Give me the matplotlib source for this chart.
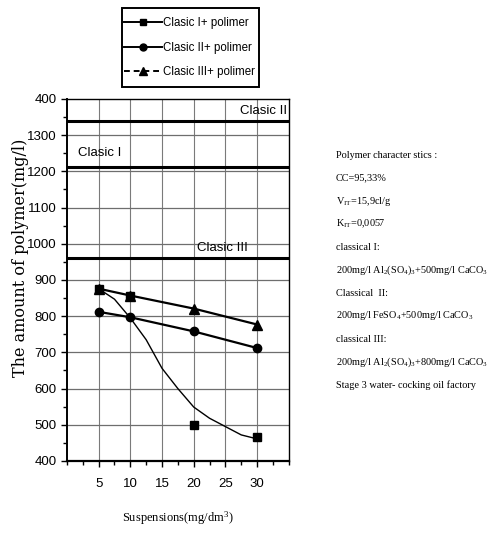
import matplotlib
matplotlib.use("Agg")
import matplotlib.pyplot as plt
from matplotlib.lines import Line2D
from matplotlib.patches import Rectangle
from matplotlib.ticker import MultipleLocator, FixedLocator

plt.rcParams['font.family'] = ['Liberation Sans', 'DejaVu Sans']
plt.rcParams['mathtext.fontset'] = 'custom'
plt.rcParams['mathtext.rm'] = 'Liberation Serif'
plt.rcParams['mathtext.it'] = 'Liberation Serif:italic'

# ---- data ----
x_pts = [5, 10, 20, 30]
clasic1_pts = [875, 856, 500, 465]          # squares
clasic2_pts = [812, 797, 758, 712]          # circles
clasic3_pts = [876, 857, 821, 777]          # triangles
# smoothed trend drawn through Clasic I
curve_x = [5, 7.5, 10, 12.5, 15, 17.5, 20, 22.5, 25, 27.5, 30]
curve_y = [876, 847, 795, 735, 656, 600, 549, 518, 495, 472, 461]
# reference levels
ref_names = ["Clasic II", "Clasic I", "Clasic III"]
ref_values = [1338, 1213, 960]

yticks = [400, 500, 600, 700, 800, 900, 1000, 1100, 1200, 1300, 1400]
ytick_labels = ["400", "500", "600", "700", "800", "900", "1000", "1100", "1200", "1300", "400"]
xticks = [5, 10, 15, 20, 25, 30]

legend_labels = ["Clasic I+ polimer", "Clasic II+ polimer", "Clasic III+ polimer"]

info_lines = [
    "Polymer character stics :",
    "CC=95,33%",
    r"V$_{\mathrm{IT}}$=15,9cl/g",
    r"K$_{\mathrm{IT}}$=0,0057",
    "classical I:",
    r"200mg/l Al$_2$(SO$_4$)$_3$+500mg/l CaCO$_3$",
    "Classical  II:",
    r"200mg/l FeSO$_4$+500mg/l CaCO$_3$",
    "classical III:",
    r"200mg/l Al$_2$(SO$_4$)$_3$+800mg/l CaCO$_3$",
    "Stage 3 water- cocking oil factory",
]

W, H = 492, 548
fig = plt.figure(figsize=(W / 100, H / 100), dpi=100)
ax = fig.add_axes([0.136, 0.1588, 0.451, 0.6606])

ax.set_xlim(0, 35)
ax.set_ylim(400, 1400)

# grid
for gx in [5, 10, 15, 20, 25, 30]:
    ax.axvline(gx, color="#7a7a7a", lw=0.8, zorder=1)
for gy in yticks[1:-1]:
    ax.axhline(gy, color="#6e6e6e", lw=0.9, zorder=1)

# reference lines
for name, val in zip(ref_names, ref_values):
    ax.axhline(val, color="black", lw=2.2, zorder=2)

ax.text(34.8, ref_values[0] + 12, ref_names[0], ha="right", va="bottom", fontsize=9.5)
ax.text(1.8, ref_values[1] + 22, ref_names[1], ha="left", va="bottom", fontsize=9.5)
ax.text(24.5, ref_values[2] + 12, ref_names[2], ha="center", va="bottom", fontsize=9.5)

# series
ax.plot(curve_x, curve_y, color="black", lw=1.0, zorder=3)
ax.plot(x_pts, clasic1_pts, ls="none", marker="s", ms=6, color="black", zorder=4)
ax.plot(x_pts, clasic2_pts, ls="-", lw=1.6, marker="o", ms=6, color="black", zorder=4)
ax.plot(x_pts, clasic3_pts, ls="-", lw=1.6, marker="^", ms=7, color="black", zorder=4)

# ticks
ax.xaxis.set_major_locator(FixedLocator(xticks))
ax.xaxis.set_minor_locator(MultipleLocator(2.5))
ax.yaxis.set_major_locator(FixedLocator(yticks))
ax.set_yticklabels(ytick_labels)
ax.yaxis.set_minor_locator(MultipleLocator(50))
ax.tick_params(axis="both", which="major", labelsize=9.5, direction="out", length=4, width=1)
ax.tick_params(axis="both", which="minor", direction="out", length=3, width=1)
ax.tick_params(axis="x", pad=8)
for s in ax.spines.values():
    s.set_linewidth(1.0)
ax.spines["left"].set_linewidth(1.4)
ax.spines["bottom"].set_linewidth(1.6)

ax.set_ylabel("The amount of polymer(mg/l)", family="DejaVu Serif", fontsize=11.5)
ax.yaxis.set_label_coords(-0.17, 0.56)
ax.set_xlabel("Suspensions(mg/dm$^3$)", family="Liberation Serif", fontsize=9, labelpad=14)

# legend
handles = [
    Line2D([], [], color="black", lw=1.4, marker="s", ms=5),
    Line2D([], [], color="black", lw=1.4, marker="o", ms=5),
    Line2D([], [], color="black", lw=1.4, marker="^", ms=6, ls=(0, (3, 2))),
]
leg = fig.legend(handles, legend_labels, loc="upper left",
                 bbox_to_anchor=(124 / W, 1 - 17 / H), fontsize=8.3,
                 handlelength=3.3, handletextpad=0.1, labelspacing=1.09,
                 borderpad=0.0, borderaxespad=0.0, frameon=False)
fig.add_artist(Rectangle((122 / W, 1 - 87 / H), 137 / W, 79 / H,
                         transform=fig.transFigure, fill=False,
                         edgecolor="black", lw=1.4))

# side text
y0 = 1 - 155 / H
dy = 23 / H
for i, line in enumerate(info_lines):
    fig.text(336 / W, y0 - i * dy, line, family="Liberation Serif",
             fontsize=7.4, va="center", ha="left")

fig.savefig("out.png", dpi=100)
